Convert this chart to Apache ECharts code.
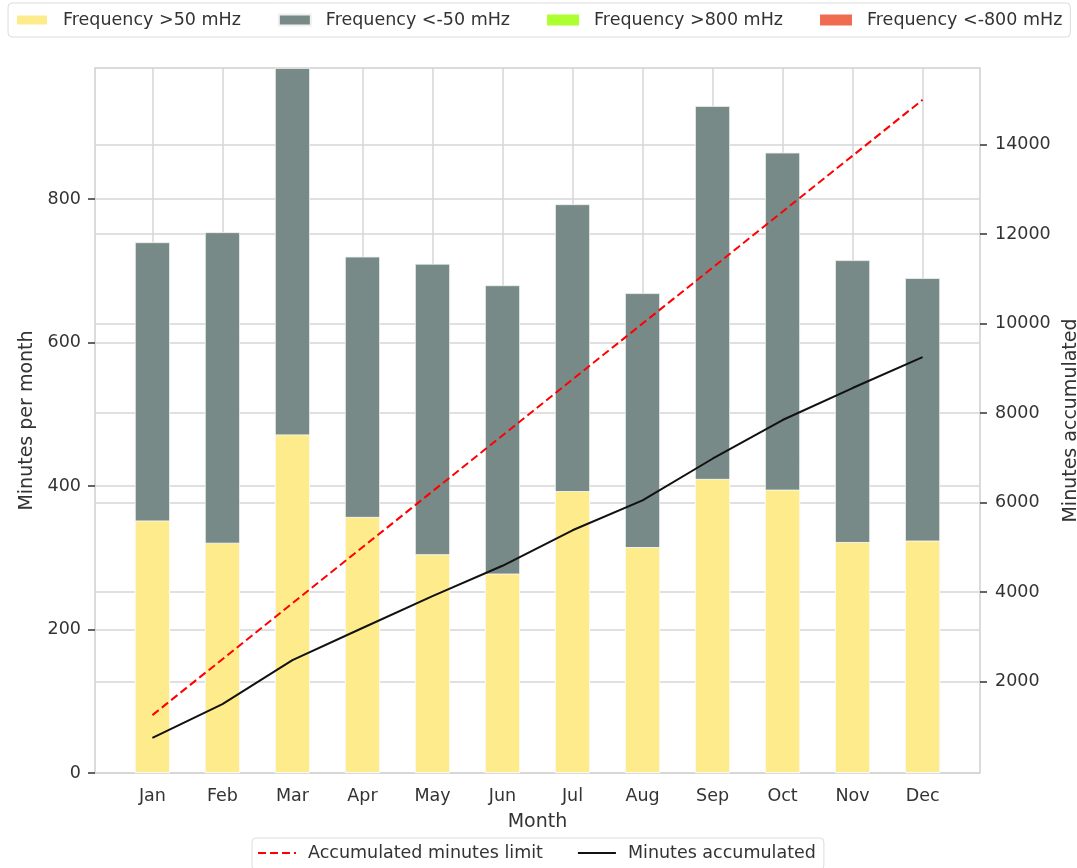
<!DOCTYPE html>
<html lang="en">
<head>
    <meta charset="UTF-8">
    <title>Frequency minutes per month</title>
    <script src="https://cdn.jsdelivr.net/npm/echarts@6/dist/echarts.min.js"></script>
    <style>
        html, body { margin: 0; padding: 0; background: #fff; }
    </style>
</head>
<body>
<div id="main" style="width: 1077px;height:868px;"></div>
<script type="text/javascript">
    // data
    var months = ['Jan', 'Feb', 'Mar', 'Apr', 'May', 'Jun', 'Jul', 'Aug', 'Sep', 'Oct', 'Nov', 'Dec'];
    var above50 = [352, 321, 472, 357, 305, 278, 393, 315, 410, 395, 322, 324];
    var totalMinutes = [740, 754, 983, 720, 710, 680, 793, 669, 930, 865, 715, 690];
    var above800 = [];
    var below800 = [];
    var limitAccum = [1250, 2500, 3750, 5000, 6250, 7500, 8750, 10000, 11250, 12500, 13750, 15000];
    var minutesAccum = [740, 1494, 2477, 3197, 3907, 4587, 5380, 6049, 6979, 7844, 8559, 9249];
    var leftTicks = [0, 200, 400, 600, 800];
    var rightTicks = [2000, 4000, 6000, 8000, 10000, 12000, 14000];

    var monthIdx = months.map(function (m, i) { return i; });
    function pairs(arr) {
        return arr.map(function (v, i) { return [i, v]; });
    }

    var font = 'DejaVu Sans';
    var txt = '#333333';
    var gridCol = '#d6d6d6';
    var fs = 17.5;

    var myChart = echarts.init(document.getElementById('main'));

    var option = {
        backgroundColor: '#fff',
        textStyle: { fontFamily: font },
        animation: false,
        legend: [
            {
                data: ['Frequency >50 mHz', 'Frequency <-50 mHz', 'Frequency >800 mHz', 'Frequency <-800 mHz'],
                left: 8,
                top: 3,
                padding: [8, 8, 8, 7],
                itemGap: 37,
                itemWidth: 32,
                itemHeight: 11,
                icon: 'rect',
                borderColor: '#dcdcdc',
                borderWidth: 1,
                borderRadius: 4,
                textStyle: { fontFamily: font, fontSize: fs, color: txt, padding: [0, 0, 0, 10] }
            },
            {
                data: ['Accumulated minutes limit', 'Minutes accumulated'],
                left: 252,
                top: 838,
                padding: [6, 8, 8, 5],
                itemGap: 34,
                itemWidth: 38,
                itemHeight: 14,
                itemStyle: { opacity: 0 },
                borderColor: '#dcdcdc',
                borderWidth: 1,
                borderRadius: 4,
                textStyle: { fontFamily: font, fontSize: fs, color: txt, padding: [0, 0, 0, 7] }
            }
        ],
        grid: {
            left: 95,
            right: 97,
            top: 68,
            bottom: 95,
            outerBoundsMode: 'none',
            show: true,
            borderColor: '#cfcfcf',
            borderWidth: 1.5
        },
        xAxis: {
            type: 'value',
            min: -0.82,
            max: 11.82,
            name: 'Month',
            nameLocation: 'middle',
            nameGap: 40,
            nameTextStyle: { fontFamily: font, fontSize: 19, color: txt },
            axisLine: { show: false },
            axisTick: { show: false, customValues: monthIdx },
            axisLabel: {
                customValues: monthIdx,
                margin: 14,
                fontFamily: font,
                fontSize: fs,
                color: txt,
                formatter: function (v) { return months[Math.round(v)]; }
            },
            splitLine: { show: true, lineStyle: { color: gridCol, width: 1.5 } }
        },
        yAxis: [
            {
                type: 'value',
                min: 0,
                max: 983,
                position: 'left',
                name: 'Minutes per month',
                nameLocation: 'middle',
                nameGap: 58,
                nameTextStyle: { fontFamily: font, fontSize: 19, color: txt },
                axisLine: { show: false, onZero: false },
                axisTick: { show: true, customValues: leftTicks, length: 7, lineStyle: { color: '#333', width: 1.5 } },
                axisLabel: { customValues: leftTicks, margin: 14, fontFamily: font, fontSize: fs, color: txt },
                splitLine: { show: true, lineStyle: { color: gridCol, width: 1.5 } }
            },
            {
                type: 'value',
                min: -44,
                max: 15711,
                position: 'right',
                name: 'Minutes accumulated',
                nameLocation: 'middle',
                nameGap: 73,
                nameTextStyle: { fontFamily: font, fontSize: 19, color: txt },
                axisLine: { show: false, onZero: false },
                axisTick: { show: true, customValues: rightTicks, length: 7, lineStyle: { color: '#333', width: 1.5 } },
                axisLabel: {
                    customValues: rightTicks, margin: 15, fontFamily: font, fontSize: fs, color: txt,
                    formatter: function (v) { return String(v); }
                },
                splitLine: { show: true, lineStyle: { color: gridCol, width: 1.5 } }
            }
        ],
        series: [
            {
                name: 'Frequency <-50 mHz',
                type: 'bar',
                barWidth: 35,
                barGap: '-100%',
                data: pairs(totalMinutes),
                itemStyle: { color: '#788a87', borderColor: '#eef1f0', borderWidth: 0.8 }
            },
            {
                name: 'Frequency >50 mHz',
                type: 'bar',
                barWidth: 35,
                barGap: '-100%',
                data: pairs(above50),
                itemStyle: { color: '#feeb8c', borderColor: '#ffffff', borderWidth: 0.8 }
            },
            {
                name: 'Frequency >800 mHz',
                type: 'bar',
                barWidth: 35,
                barGap: '-100%',
                data: pairs(above800),
                itemStyle: { color: '#adff2f' }
            },
            {
                name: 'Frequency <-800 mHz',
                type: 'bar',
                barWidth: 35,
                barGap: '-100%',
                data: pairs(below800),
                itemStyle: { color: '#ef6c50' }
            },
            {
                name: 'Accumulated minutes limit',
                type: 'line',
                yAxisIndex: 1,
                symbol: 'none',
                z: 5,
                data: pairs(limitAccum),
                itemStyle: { color: '#ff0000' },
                lineStyle: { color: '#ff0000', width: 2, type: [8, 4] }
            },
            {
                name: 'Minutes accumulated',
                type: 'line',
                yAxisIndex: 1,
                symbol: 'none',
                z: 5,
                data: pairs(minutesAccum),
                itemStyle: { color: '#111111' },
                lineStyle: { color: '#111111', width: 2 }
            }
        ]
    };

    myChart.setOption(option);
</script>
</body>
</html>
